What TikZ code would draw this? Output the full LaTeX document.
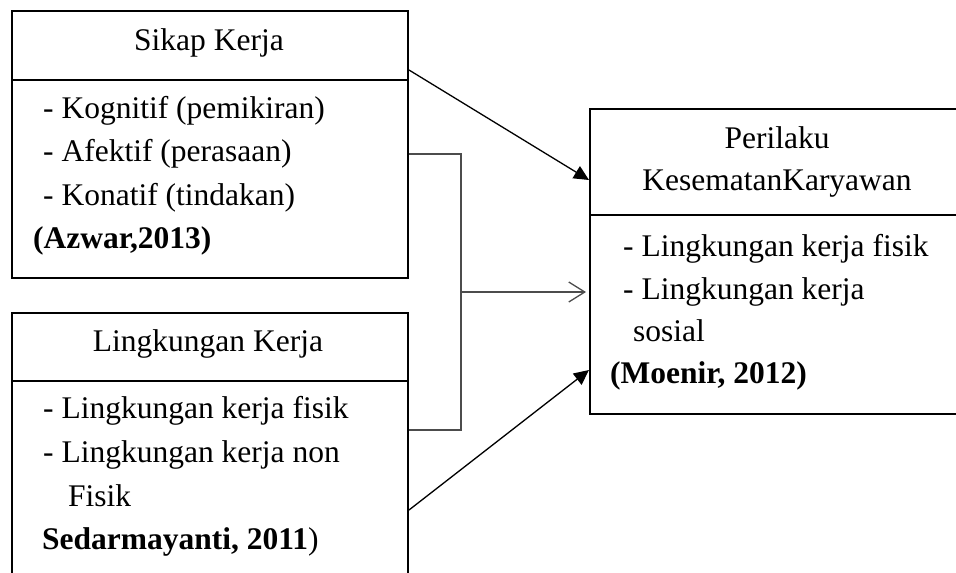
\documentclass[tikz,border=0pt]{standalone}
\usepackage{fontspec}
\setmainfont{Liberation Serif}
\usetikzlibrary{arrows.meta,calc}
\tikzset{
  boxnode/.style={draw=black,line width=2pt,rectangle,inner sep=0pt,anchor=north west},
  divline/.style={line width=2pt},
  txt/.style={inner sep=0pt,anchor=base west,font=\fontsize{31.5}{38}\selectfont},
  ttl/.style={inner sep=0pt,anchor=base,font=\fontsize{31.5}{38}\selectfont},
  solidarr/.style={line width=1.3pt,-{Triangle[length=15pt,width=14pt]}},
  openarr/.style={line width=1.3pt,draw=black!70,-{Straight Barb[length=16pt,width=20pt,line width=1.3pt]}},
  bracket/.style={line width=1.3pt,draw=black!70}
}
\begin{document}
\begin{tikzpicture}[x=1pt,y=-1pt]
\useasboundingbox (0,0) rectangle (956,573);
\clip (0,0) rectangle (956,573);
% boxes
\node[boxnode,minimum width=396pt,minimum height=267pt] (box1) at (11,10) {};
\node[boxnode,minimum width=396pt,minimum height=300pt] (box2) at (11,312) {};
\node[boxnode,minimum width=400pt,minimum height=305pt] (box3) at (589,108) {};
% dividers
\draw[divline] ($(box1.north west)+(0,70)$) -- ($(box1.north east)+(0,70)$);
\draw[divline] ($(box2.north west)+(0,69)$) -- ($(box2.north east)+(0,69)$);
\draw[divline] ($(box3.north west)+(0,107)$) -- ($(box3.north east)+(0,107)$);
% box 1 text
\node[ttl] (t1) at (209,50) {Sikap Kerja};
\node[txt] (a1) at (43,118) {- Kognitif (pemikiran)};
\node[txt] (a2) at (43,161.5) {- Afektif (perasaan)};
\node[txt] (a3) at (43,205) {- Konatif (tindakan)};
\node[txt] (a4) at (33,248.5) {\textbf{(Azwar,2013)}};
% box 2 text
\node[ttl] (t2) at (208,351) {Lingkungan Kerja};
\node[txt] (b1) at (43,418) {- Lingkungan kerja fisik};
\node[txt] (b2) at (43,462) {- Lingkungan kerja non};
\node[txt] (b3) at (68,506) {Fisik};
\node[txt] (b4) at (42,549) {\textbf{Sedarmayanti, 2011})};
% box 3 text
\node[ttl] (t3) at (777,148) {Perilaku};
\node[ttl] (t4) at (777,190) {KesematanKaryawan};
\node[txt] (c1) at (623,256) {- Lingkungan kerja fisik};
\node[txt] (c2) at (623,299) {- Lingkungan kerja};
\node[txt] (c3) at (633,341) {sosial};
\node[txt] (c4) at (610,383) {\textbf{(Moenir, 2012)}};
% connectors
\coordinate (j1) at ($(box1.north east)+(52,144)$);
\coordinate (j2) at ($(box2.north east)+(52,118)$);
\coordinate (jm) at ($(box1.north east)+(52,282)$);
\draw[solidarr] ($(box1.north east)+(0,60)$) -- ($(box3.north west)+(0,72)$);
\draw[bracket] ($(box1.north east)+(0,144)$) -- (j1) -- (j2) -- ($(box2.north east)+(0,118)$);
\draw[openarr] (jm) -- ($(box3.north west)+(-3,184)$);
\draw[solidarr] ($(box2.north east)+(0,198)$) -- ($(box3.north west)+(0,262)$);
\end{tikzpicture}
\end{document}
